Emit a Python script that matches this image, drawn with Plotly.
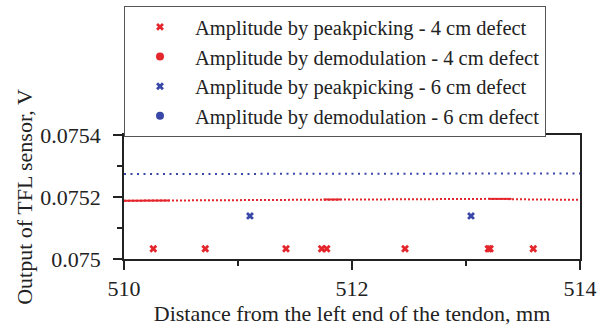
import plotly.graph_objects as go

# Data
peak4_x = [510.257, 510.713, 511.421, 511.734, 511.778, 512.465, 513.196, 513.211, 513.59]
peak4_y = [0.0750333] * 9
peak6_x = [511.105, 513.044]
peak6_y = [0.075139, 0.075139]
demod4_x = [510, 510.4, 511.75, 513.2, 513.6, 514]
demod4_y = [0.075188, 0.075189, 0.075192, 0.075194, 0.075192, 0.075191]
demod4_solid_x = [510, 510.4, None, 511.75, 511.9, None, 513.2, 513.4]
demod4_solid_y = [0.075188, 0.075189, None, 0.075192, 0.075192, None, 0.075194, 0.075194]
demod6_x = [510, 513.8, 514]
demod6_y = [0.075274, 0.075274, 0.075276]

x_major = [510, 512, 514]
x_minor = [511, 513]
y_major = [0.075, 0.0752, 0.0754]
y_major_text = ["0.075", "0.0752", "0.0754"]
y_minor = [0.0751, 0.0753]

RED = "#e4262c"
BLUE = "#3947a8"
FONT = "Liberation Serif"
INK = "#222222"

fig = go.Figure()

fig.add_trace(go.Scatter(x=demod6_x, y=demod6_y, mode="lines",
                         line=dict(color=BLUE, width=2, dash="2px,4.5px"),
                         showlegend=False, hoverinfo="skip"))
fig.add_trace(go.Scatter(x=demod4_x, y=demod4_y, mode="lines",
                         line=dict(color=RED, width=2, dash="2px,2px"),
                         showlegend=False, hoverinfo="skip"))
fig.add_trace(go.Scatter(x=demod4_solid_x, y=demod4_solid_y, mode="lines",
                         line=dict(color=RED, width=2), connectgaps=False,
                         showlegend=False, hoverinfo="skip"))

fig.add_trace(go.Scatter(x=peak4_x, y=peak4_y, mode="markers",
                         name="Amplitude by peakpicking - 4 cm defect",
                         marker=dict(symbol="x", size=7, color=RED, line=dict(width=0))))
fig.add_trace(go.Scatter(x=[None], y=[None], mode="markers",
                         name="Amplitude by demodulation - 4 cm defect",
                         marker=dict(symbol="circle", size=8, color=RED)))
fig.add_trace(go.Scatter(x=peak6_x, y=peak6_y, mode="markers",
                         name="Amplitude by peakpicking - 6 cm defect",
                         marker=dict(symbol="x", size=7, color=BLUE, line=dict(width=0))))
fig.add_trace(go.Scatter(x=[None], y=[None], mode="markers",
                         name="Amplitude by demodulation - 6 cm defect",
                         marker=dict(symbol="circle", size=8, color=BLUE)))

fig.update_layout(
    width=609, height=328,
    margin=dict(l=124, r=29, t=135, b=69, autoexpand=False),
    paper_bgcolor="white", plot_bgcolor="white",
    font=dict(family=FONT, size=22, color=INK),
    legend=dict(x=0, y=2.04, xanchor="left", yanchor="top",
                bordercolor="#555", borderwidth=1, bgcolor="white",
                font=dict(family=FONT, size=20.5, color=INK),
                itemwidth=60, tracegroupgap=0),
    xaxis=dict(range=[510, 514], tickvals=x_major, automargin=False,
               ticks="outside", ticklen=9, tickwidth=1.5, tickcolor=INK,
               minor=dict(tickvals=x_minor, ticks="outside", ticklen=5, tickwidth=1.5, tickcolor=INK),
               showline=True, linecolor=INK, linewidth=1.5, mirror=True,
               showgrid=False, zeroline=False, ticklabelstandoff=0,
               title=dict(text="Distance from the left end of the tendon, mm", standoff=0,
                          font=dict(family=FONT, size=22, color=INK)),
               tickfont=dict(family=FONT, size=22, color=INK)),
    yaxis=dict(range=[0.075, 0.0754], tickvals=y_major, ticktext=y_major_text, automargin=False,
               ticks="outside", ticklen=9, tickwidth=1.5, tickcolor=INK,
               minor=dict(tickvals=y_minor, ticks="outside", ticklen=5, tickwidth=1.5, tickcolor=INK),
               showline=True, linecolor=INK, linewidth=1.5, mirror=True,
               showgrid=False, zeroline=False, ticklabelstandoff=8,
               title=dict(text="Output of TFL sensor, V", standoff=2,
                          font=dict(family=FONT, size=22, color=INK)),
               tickfont=dict(family=FONT, size=22, color=INK)),
)

fig.write_html("out.html")
